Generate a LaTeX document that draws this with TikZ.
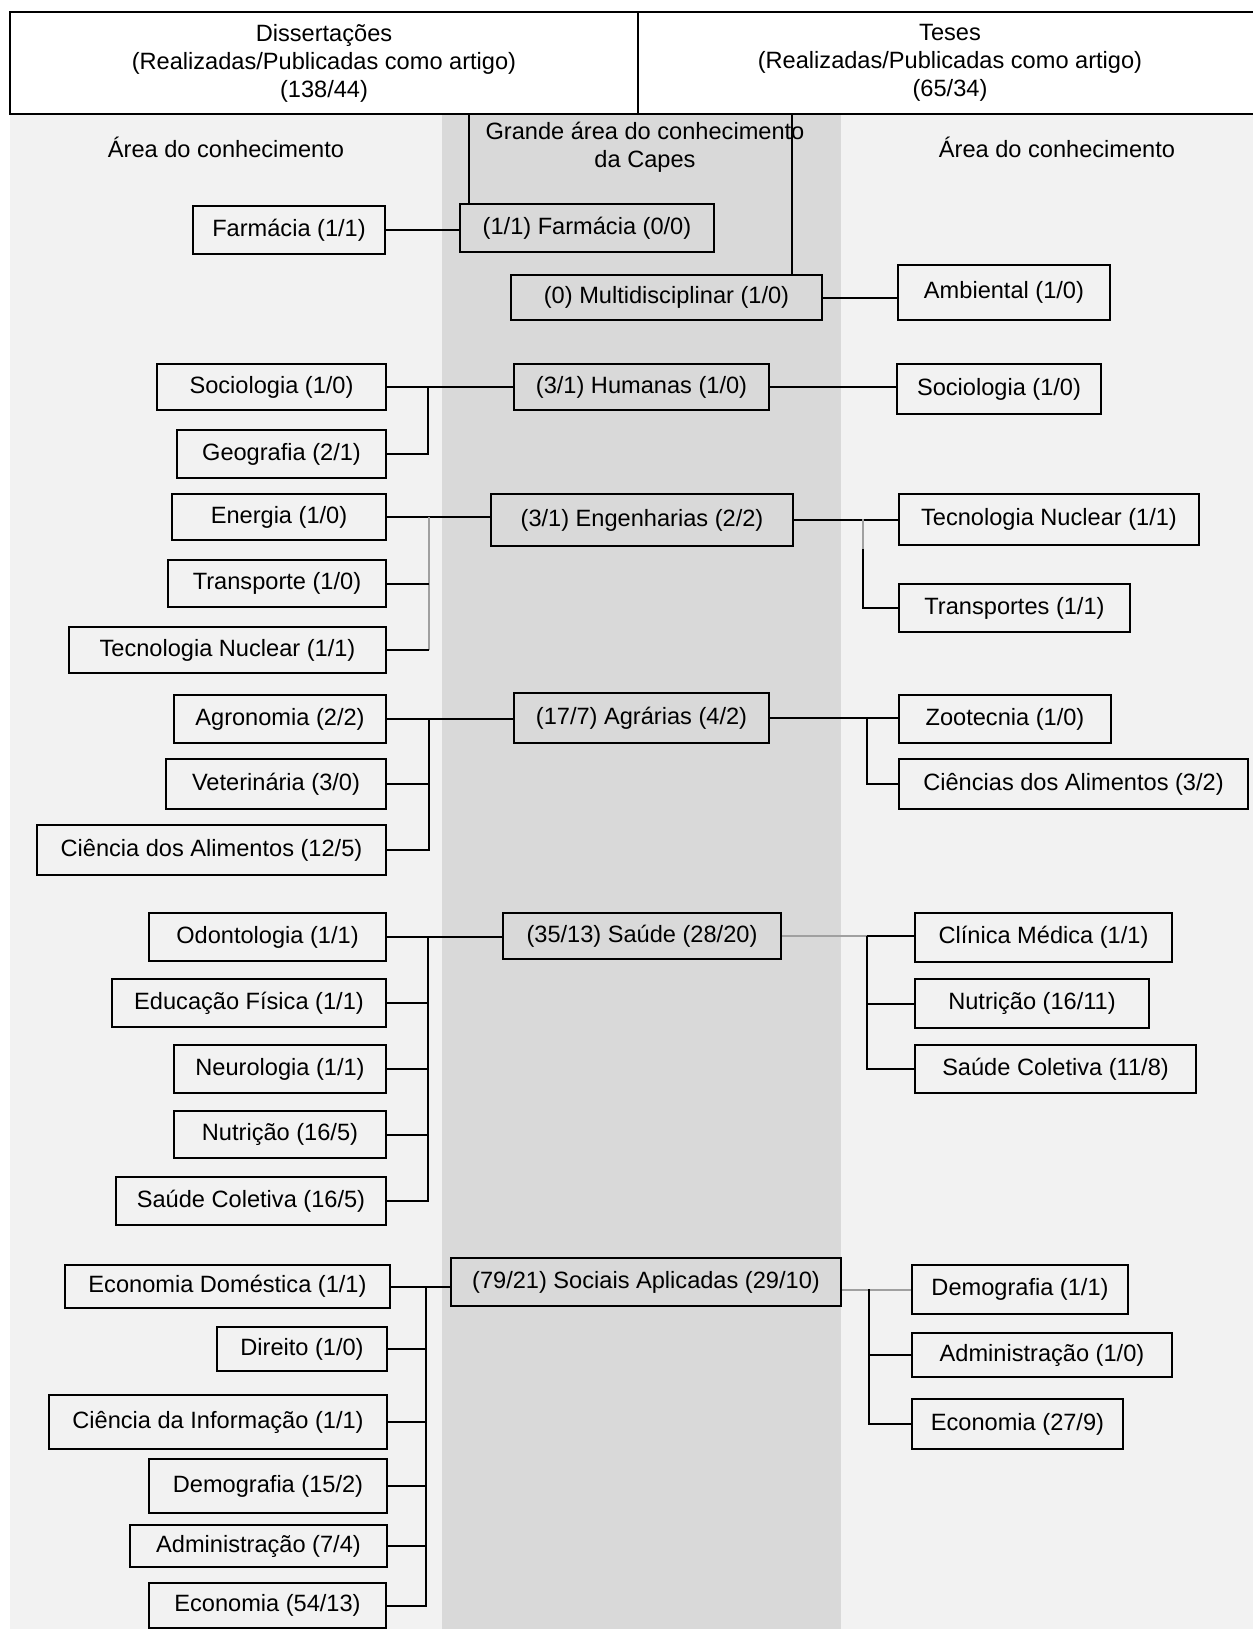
\documentclass[tikz,border=0pt]{standalone}
\usepackage{fontspec}
\setmainfont{Liberation Sans}
\definecolor{bgL}{HTML}{F2F2F2}
\definecolor{bgB}{HTML}{D9D9D9}
\definecolor{lnG}{HTML}{A0A0A0}
\newcommand\mybox[6]{\node[bx, minimum width={(#4-#2)*0.5pt}, minimum height={(#5-#3)*0.5pt}] (#1) at ({(#2+#4)/2},{(#3+#5)/2}) {#6};}
\begin{document}
\begin{tikzpicture}[x=0.5pt,y=-0.5pt,
  txt/.style={font=\fontsize{11.8}{14}\selectfont, text=black},
  bx/.style={draw, line width=1pt, inner sep=0pt, txt},
  ln/.style={line width=1pt},
  lg/.style={line width=1pt, draw=lnG}]
\useasboundingbox (0,0) rectangle (1253,1629);
\fill[bgL] (10,114) rectangle (1253,1629);
\fill[bgB] (442,114) rectangle (841,1629);
% header
\node[bx, align=center, minimum width=314pt, minimum height=51pt] (hdrL) at (324,63)
  {Dissertações\\(Realizadas/Publicadas como artigo)\\(138/44)};
\node[bx, align=center, minimum width=312pt, minimum height=51pt] (hdrR) at (950,63)
  {Teses\\(Realizadas/Publicadas como artigo)\\(65/34)};
\node[txt] (areaL) at (226,147) {Área do conhecimento};
\node[txt] (areaR) at (1057,147) {Área do conhecimento};
\node[txt, align=center] (grande) at (645,147) {Grande área do conhecimento\\da Capes};
% Farmacia / Multidisciplinar
\mybox{farmL}{193}{206}{385}{254}{Farmácia (1/1)}
\mybox{farmC}{460}{204}{714}{252}{(1/1) Farmácia (0/0)}
\mybox{multi}{511}{275}{822}{320}{(0) Multidisciplinar (1/0)}
\mybox{amb}{898}{265}{1110}{320}{Ambiental (1/0)}
\draw[ln] ([xshift=5pt]farmC.north west) -- ([xshift=5pt]farmC.north west |- hdrL.south);
\draw[ln] ([xshift=-15.5pt]multi.north east) -- ([xshift=-15.5pt]multi.north east |- hdrR.south);
\draw[ln] (farmL.east) -- (farmL.east -| farmC.west);
\draw[ln] (multi.east) -- (multi.east -| amb.west);
% Humanas
\mybox{socL}{157}{364}{386}{410}{Sociologia (1/0)}
\mybox{geo}{177}{430}{386}{478}{Geografia (2/1)}
\mybox{hum}{514}{364}{769}{410}{(3/1) Humanas (1/0)}
\mybox{socR}{897}{364}{1101}{414}{Sociologia (1/0)}
\coordinate (bh) at (428,387);
\draw[ln] (socL.east) -- (hum.west);
\draw[ln] (bh) |- (geo.east);
\draw[ln] (hum.east) -- (hum.east -| socR.west);
% Engenharias
\mybox{ener}{172}{494}{386}{540}{Energia (1/0)}
\mybox{trL}{168}{560}{386}{607}{Transporte (1/0)}
\mybox{tecL}{69}{627}{386}{673}{Tecnologia Nuclear (1/1)}
\mybox{eng}{491}{494}{793}{546}{(3/1) Engenharias (2/2)}
\mybox{tecR}{899}{494}{1199}{545}{Tecnologia Nuclear (1/1)}
\mybox{trR}{899}{584}{1130}{632}{Transportes (1/1)}
\coordinate (be) at (429,517);
\draw[ln] (ener.east) -- (ener.east -| eng.west);
\draw[lg] (be) -- (be |- tecL.east);
\draw[ln] (be |- trL.east) -- (trL.east);
\draw[ln] (be |- tecL.east) -- (tecL.east);
\coordinate (ber) at (863,519);
\draw[ln] (eng.east) -- (eng.east -| tecR.west);
\draw[lg] (ber) -- ++(0,30) coordinate (ber2);
\draw[ln] (ber2) |- (trR.west);
% Agrarias
\mybox{agro}{174}{695}{386}{743}{Agronomia (2/2)}
\mybox{vet}{166}{759}{386}{809}{Veterinária (3/0)}
\mybox{cial}{37}{825}{386}{875}{Ciência dos Alimentos (12/5)}
\mybox{agr}{514}{693}{769}{743}{(17/7) Agrárias (4/2)}
\mybox{zoo}{899}{695}{1111}{743}{Zootecnia (1/0)}
\mybox{ciaR}{899}{759}{1248}{809}{Ciências dos Alimentos (3/2)}
\coordinate (ba) at (429,719);
\draw[ln] (agro.east) -- (agro.east -| agr.west);
\draw[ln] (ba) |- (cial.east);
\draw[ln] (ba |- vet.east) -- (vet.east);
\coordinate (bar) at (867,719);
\draw[ln] (agr.east) -- (agr.east -| zoo.west);
\draw[ln] (bar) |- (ciaR.west);
% Saude
\mybox{odo}{149}{913}{386}{961}{Odontologia (1/1)}
\mybox{edf}{112}{979}{386}{1027}{Educação Física (1/1)}
\mybox{neu}{174}{1045}{386}{1093}{Neurologia (1/1)}
\mybox{nutL}{174}{1111}{386}{1158}{Nutrição (16/5)}
\mybox{scL}{116}{1177}{386}{1225}{Saúde Coletiva (16/5)}
\mybox{sau}{503}{913}{781}{959}{(35/13) Saúde (28/20)}
\mybox{cli}{915}{913}{1172}{962}{Clínica Médica (1/1)}
\mybox{nutR}{915}{979}{1149}{1028}{Nutrição (16/11)}
\mybox{scR}{915}{1045}{1196}{1093}{Saúde Coletiva (11/8)}
\coordinate (bs) at (428,937);
\draw[ln] (odo.east) -- (odo.east -| sau.west);
\draw[ln] (bs) |- (scL.east);
\draw[ln] (bs |- edf.east) -- (edf.east);
\draw[ln] (bs |- neu.east) -- (neu.east);
\draw[ln] (bs |- nutL.east) -- (nutL.east);
\coordinate (bsr) at (867,936);
\draw[lg] (sau.east) -- (bsr);
\draw[ln] (bsr) -- (bsr -| cli.west);
\draw[ln] (bsr) |- (scR.west);
\draw[ln] (bsr |- nutR.west) -- (nutR.west);
% Sociais Aplicadas
\mybox{ecd}{65}{1265}{390}{1308}{Economia Doméstica (1/1)}
\mybox{dir}{217}{1327}{387}{1371}{Direito (1/0)}
\mybox{cinf}{49}{1395}{387}{1449}{Ciência da Informação (1/1)}
\mybox{demL}{149}{1459}{387}{1513}{Demografia (15/2)}
\mybox{admL}{130}{1525}{387}{1567}{Administração (7/4)}
\mybox{ecoL}{149}{1583}{386}{1628}{Economia (54/13)}
\mybox{soc}{451}{1258}{841}{1306}{(79/21) Sociais Aplicadas (29/10)}
\mybox{demR}{912}{1265}{1128}{1314}{Demografia (1/1)}
\mybox{admR}{912}{1333}{1172}{1377}{Administração (1/0)}
\mybox{ecoR}{912}{1399}{1123}{1449}{Economia (27/9)}
\coordinate (bc) at (426,1286);
\draw[ln] (ecd.east) -- (ecd.east -| soc.west);
\draw[ln] (bc) |- (ecoL.east);
\draw[ln] (bc |- dir.east) -- (dir.east);
\draw[ln] (bc |- cinf.east) -- (cinf.east);
\draw[ln] (bc |- demL.east) -- (demL.east);
\draw[ln] (bc |- admL.east) -- (admL.east);
\coordinate (bcr) at (869,1289);
\draw[lg] (soc.east |- demR.west) -- (demR.west);
\draw[ln] (bcr) |- (ecoR.west);
\draw[ln] (bcr |- admR.west) -- (admR.west);
\end{tikzpicture}
\end{document}
